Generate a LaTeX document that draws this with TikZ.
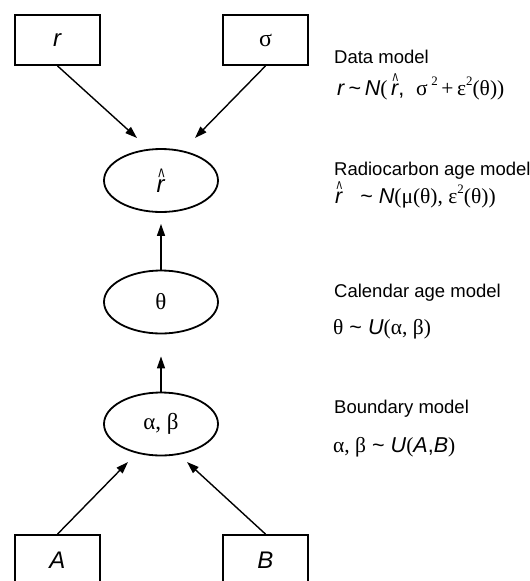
\documentclass[tikz,border=0pt]{standalone}
\usepackage{fontspec}
\setmainfont{Liberation Sans}
\newfontfamily\grk{Liberation Serif}
\usetikzlibrary{arrows.meta,shapes.geometric}
\newcommand\hatr{\leavevmode\makebox[0pt][l]{\kern0.07em\raisebox{0.3em}{\scalebox{0.55}[1]{\textasciicircum}}}\textit{r}}
\newcommand\sq{\raisebox{0.45em}{\fontsize{0.6em}{0.6em}\selectfont 2}}
\begin{document}
\begin{tikzpicture}[x=1pt,y=-1pt,
 box/.style={draw,line width=1.8pt,minimum width=85pt,minimum height=50pt,inner sep=0pt,font=\fontsize{24}{24}\selectfont},
 ell/.style={draw,ellipse,line width=1.8pt,minimum width=114pt,minimum height=63pt,inner sep=0pt,font=\fontsize{23}{24}\selectfont},
 arr/.style={line width=1.4pt,-{Triangle[length=12pt,width=8pt]}},
 lbl/.style={anchor=base west,inner sep=0pt,font=\fontsize{18.5}{20}\selectfont},
 frm/.style={anchor=base west,inner sep=0pt,font=\fontsize{21.5}{22}\selectfont}]
\clip (0,0) rectangle (530,581);
\node[box] (r) at (57.5,40) {\textit{r}};
\node[box] (s) at (265.5,40) {\grk σ};
\node[ell] (rh) at (161,180.5) {\fontsize{24}{24}\selectfont\hatr};
\node[ell] (th) at (161,302) {\grk θ};
\node[ell] (ab) at (161,424) {\grk α, β};
\node[box] (A) at (57.5,560) {\textit{A}};
\node[box] (B) at (265.5,560) {\textit{B}};
\coordinate (t1) at (137,138);
\coordinate (t2) at (195,138);
\coordinate (t3) at (128,462);
\coordinate (t4) at (187,462);
\draw[arr] (r.south) -- (t1);
\draw[arr] (s.south) -- (t2);
\draw[arr] (A.north) -- (t3);
\draw[arr] (B.north) -- (t4);
\draw[arr,shorten >=11pt] (th.north) -- (rh.south);
\draw[arr,shorten >=22pt] (ab.north) -- (th.south);
\node[lbl] (l1) at (334,63) {Data model};
\node[frm] (f1) at (337,95) {\textit{r}\,\textasciitilde\,\textit{N}{\grk(}\,\hatr,\; {\grk σ\,\sq\,+\,ε\sq(θ))}};
\node[lbl] (l2) at (334,175) {Radiocarbon age model};
\node[frm] (f2) at (335,203) {\hatr\hspace{0.8em}\textasciitilde{} \textit{N}{\grk(μ(θ), ε\sq(θ))}};
\node[lbl] (l3) at (334,297) {Calendar age model};
\node[frm] (f3) at (333,334) {{\grk θ} \textasciitilde{} \textit{U}{\grk(α, β)}};
\node[lbl] (l4) at (334,413) {Boundary model};
\node[frm] (f4) at (333,452) {{\grk α, β} \textasciitilde{} \textit{U}{\grk(}\textit{A},\textit{B}{\grk)}};
\end{tikzpicture}
\end{document}
